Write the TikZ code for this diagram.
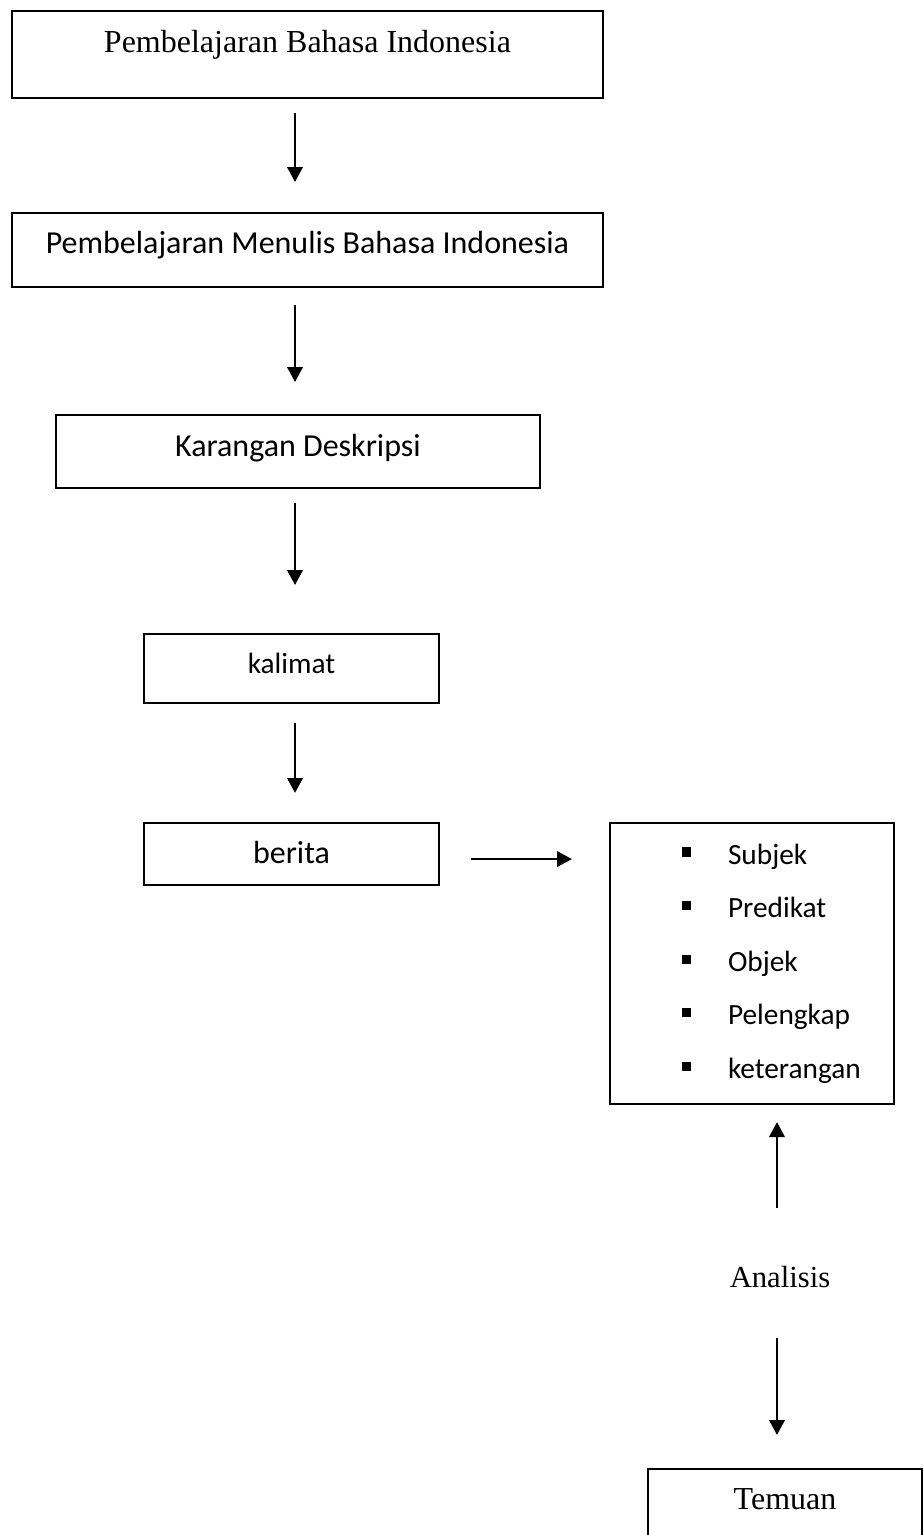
\documentclass[tikz,border=0pt]{standalone}
\usepackage{fontspec}
\setmainfont{Liberation Serif}
\setsansfont{Carlito}
\usetikzlibrary{arrows.meta}

\def\bul{\rule[2.8pt]{3.4pt}{3.4pt}}
\newcommand{\itm}[1]{\hspace*{27pt}\bul\hspace{13.85pt}#1}

\begin{document}
\begin{tikzpicture}[
    x=0.375pt, y=-0.375pt,
    box/.style={rectangle,draw,line width=0.75pt,anchor=north west,inner sep=0pt},
    serif/.style={font=\fontsize{12}{14}\selectfont},
    sans/.style={font=\sffamily\fontsize{12}{14}\selectfont},
    arr/.style={-{Triangle[length=5.6pt,width=5.8pt]},line width=0.85pt},
]
\useasboundingbox (0,0) rectangle (923,1535);

\coordinate (colL) at (295,0);
\coordinate (colR) at (777,0);

% left column
\node[box,serif,minimum width=221.6pt,minimum height=32.6pt,
      text height=9pt,text depth=10.1pt] (bahasa) at (11,10)
      {Pembelajaran Bahasa Indonesia};
\node[box,sans,minimum width=221.6pt,minimum height=27.75pt,
      text height=9pt,text depth=6pt] (menulis) at (11,212)
      {Pembelajaran Menulis Bahasa Indonesia};
\node[box,sans,minimum width=181.5pt,minimum height=27.4pt,
      text height=9pt,text depth=4.9pt] (karangan) at (55,414)
      {Karangan Deskripsi};
\node[box,sans,font=\sffamily\fontsize{11}{13}\selectfont,
      minimum width=110.6pt,minimum height=25.9pt,
      text height=9pt,text depth=5.6pt] (kalimat) at (143,633) {kalimat};
\node[box,sans,minimum width=110.6pt,minimum height=23.25pt,
      text height=9pt,text depth=2.25pt] (berita) at (143,822) {berita};

% right column
\node[box,font=\sffamily\fontsize{11}{20.1}\selectfont,
      minimum width=106.5pt,minimum height=105.4pt,
      text width=106.5pt,align=left] (unsur) at (609,822)
      {\itm{Subjek}\\ \itm{Predikat}\\ \itm{Objek}\\ \itm{Pelengkap}\\ \itm{keterangan}};
\node[font=\fontsize{11.5}{14}\selectfont,anchor=base,inner sep=0pt,
      text height=8pt,text depth=2pt] (analisis) at (780,1287) {Analisis};
\node[box,serif,minimum width=102.75pt,minimum height=41.25pt,
      text height=9pt,text depth=20.25pt] (temuan) at (647,1468) {Temuan};

% connectors
\draw[arr,shorten <=5.25pt,shorten >=11.25pt] (bahasa.south -| colL) -- (menulis.north -| colL);
\draw[arr,shorten <=6.4pt,shorten >=12pt] (menulis.south -| colL) -- (karangan.north -| colL);
\draw[arr,shorten <=5.25pt,shorten >=18pt] (karangan.south -| colL) -- (kalimat.north -| colL);
\draw[arr,shorten <=7.1pt,shorten >=10.9pt] (kalimat.south -| colL) -- (berita.north -| colL);
\draw[arr,shorten <=11.6pt,shorten >=13.9pt] ([yshift=-1.9pt]berita.east) -- ([yshift=-1.9pt]berita.east -| unsur.west);
\draw[arr,shorten <=21.6pt,shorten >=6.4pt] (analisis.north -| colR) -- (unsur.south -| colR);
\draw[arr,shorten <=17.1pt,shorten >=12.4pt] (analisis.south -| colR) -- (temuan.north -| colR);

\end{tikzpicture}
\end{document}
